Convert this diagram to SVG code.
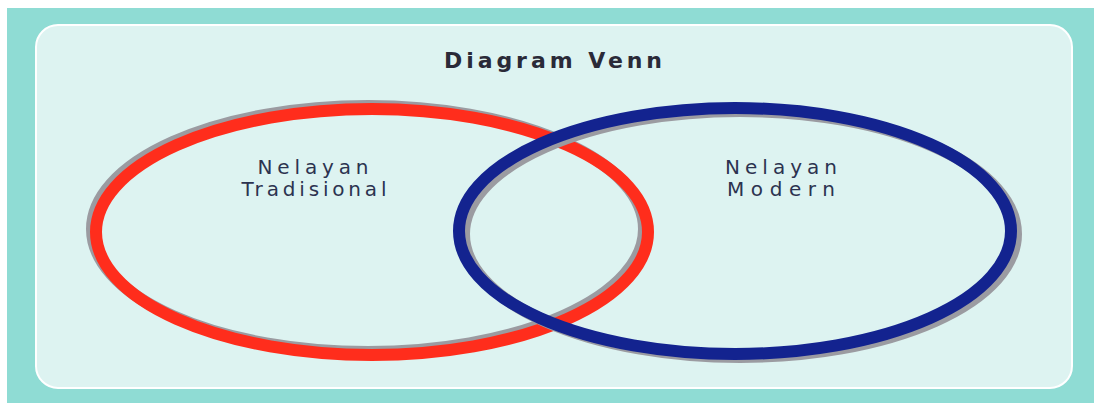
<svg xmlns="http://www.w3.org/2000/svg" width="1094" height="403" viewBox="0 0 1094 403">
<style>
.ring{fill:none;stroke-width:12}
.shadow{fill:none;stroke:#9b9ba1;stroke-width:12}
.lbl{font-family:"DejaVu Sans","Liberation Sans",sans-serif;font-size:20px;fill:#2c3350;text-anchor:middle}
.title{font-family:"DejaVu Sans","Liberation Sans",sans-serif;font-size:22px;font-weight:bold;fill:#2a2a38;text-anchor:middle}
</style>
<rect x="0" y="0" width="1094" height="403" fill="#ffffff"/>
<rect x="7" y="8" width="1087" height="395" fill="#8fdcd4"/>
<rect x="36" y="25" width="1036" height="363" rx="22" fill="#ddf3f1" stroke="#ffffff" stroke-width="2"/>
<text class="title" x="553" y="68" textLength="218" lengthAdjust="spacing">Diagram Venn</text>
<g id="set-tradisional">
<ellipse class="shadow" cx="368" cy="229" rx="276" ry="123"/>
<ellipse class="ring" cx="372" cy="232" rx="276" ry="123" stroke="#ff2d1c" stroke-width="13"/>
<text class="lbl" x="313" y="174" textLength="111" lengthAdjust="spacing">Nelayan</text>
<text class="lbl" x="314" y="196" textLength="145" lengthAdjust="spacing">Tradisional</text>
</g>
<g id="set-modern">
<ellipse class="shadow" cx="740" cy="234" rx="276" ry="123"/>
<ellipse class="ring" cx="735" cy="231" rx="276" ry="123" stroke="#13238f"/>
<text class="lbl" x="781" y="174" textLength="112" lengthAdjust="spacing">Nelayan</text>
<text class="lbl" x="781" y="196" textLength="108" lengthAdjust="spacing">Modern</text>
</g>
<g id="connectors"></g>
</svg>
